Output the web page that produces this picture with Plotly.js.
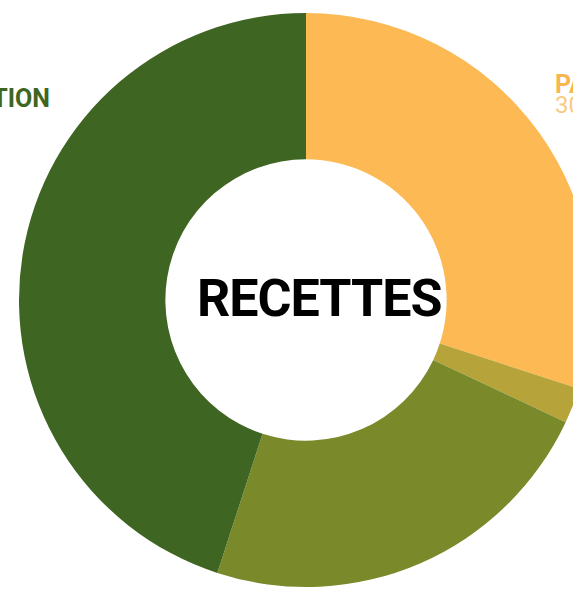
<!DOCTYPE html>
<html>
<head>
<meta charset="utf-8">
<script src="https://cdn.plot.ly/plotly-3.0.1.min.js"></script>
<style>
html, body { margin: 0; padding: 0; width: 573px; height: 590px; overflow: hidden; background: #ffffff; }
#chart { position: absolute; left: -200px; top: 0px; width: 900px; height: 620px; }
#chart g.annotation[data-index="0"] text { letter-spacing: -1px; }
</style>
</head>
<body>
<div id="chart"></div>
<script>
// Data
var labels = ["PARTICIPATION", "AUTRES", "VENTES", "SUBVENTION"];
var values = [30, 2, 23, 45];
var colors = ["#FDB954", "#B6A43B", "#7A8A2B", "#3E6521"];
var centerTitle = "RECETTES";

var W = 900, H = 620, OFFX = 200;
function px(X) { return (X + OFFX) / W; }
function py(Y) { return 1 - Y / H; }

var cx = 306, cy = 300, R = 287;
var FONT = "Roboto, 'DejaVu Sans Condensed', sans-serif";

var trace = {
  type: "pie",
  labels: labels,
  values: values,
  marker: { colors: colors, line: { width: 0 } },
  hole: 0.49,
  sort: false,
  direction: "clockwise",
  rotation: 0,
  textinfo: "none",
  hoverinfo: "label+percent",
  showlegend: false,
  domain: { x: [px(cx - R), px(cx + R)], y: [py(cy + R), py(cy - R)] }
};

var layout = {
  width: W, height: H,
  margin: { l: 0, r: 0, t: 0, b: 0 },
  paper_bgcolor: "#ffffff",
  showlegend: false,
  annotations: [
    { xref: "paper", yref: "paper", x: px(319), y: py(299), xanchor: "center", yanchor: "middle",
      text: "<b>" + centerTitle + "</b>", showarrow: false,
      font: { family: FONT, size: 52, color: "#000000" } },
    { xref: "paper", yref: "paper", x: px(52), y: py(98), xanchor: "right", yanchor: "middle",
      text: "<b>" + labels[3] + "</b>", showarrow: false,
      font: { family: FONT, size: 25, color: colors[3] } },
    { xref: "paper", yref: "paper", x: px(553), y: py(84), xanchor: "left", yanchor: "middle",
      text: "<b>" + labels[0] + "</b>", showarrow: false,
      font: { family: FONT, size: 25, color: "#F6B650" } },
    { xref: "paper", yref: "paper", x: px(553), y: py(105), xanchor: "left", yanchor: "middle",
      text: values[0] + " %", showarrow: false,
      font: { family: FONT, size: 24, color: "#F9CB82" } }
  ]
};

Plotly.newPlot("chart", [trace], layout, { displayModeBar: false, staticPlot: true });
</script>
</body>
</html>
